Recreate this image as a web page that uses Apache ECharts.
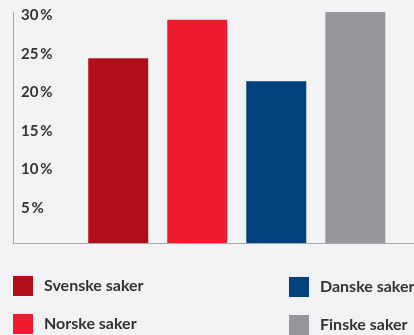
<!DOCTYPE html>
<html>
<head>
<meta charset="utf-8">
<style>
  html, body { margin: 0; padding: 0; background: #f1f2f4; }
  #chart { width: 414px; height: 335px; }
</style>
<script src="https://cdn.jsdelivr.net/npm/echarts@6/dist/echarts.min.js"></script>
</head>
<body>
<div id="chart"></div>
<script>
// Share of cases per country (percent)
const categories = ['Svenske saker', 'Norske saker', 'Danske saker', 'Finske saker'];
const values = [24, 29, 21, 30];
const colors = ['#b20f1b', '#ee1c2e', '#00417e', '#96979b'];
const yTicks = [0, 5, 10, 15, 20, 25, 30];

const FONT = 'Lato, "Open Sans", sans-serif';
const axisColor = '#a8a9ab';

const chart = echarts.init(document.getElementById('chart'), null, { renderer: 'canvas' });

const series = categories.map((name, i) => ({
  name: name,
  type: 'bar',
  xAxisIndex: 1,
  yAxisIndex: 1,
  data: [values[i]],
  barWidth: 60,
  barGap: '31.7%',
  itemStyle: { color: colors[i] },
  emphasis: { disabled: true }
}));

const legendBase = {
  orient: 'vertical',
  padding: 0,
  itemWidth: 20,
  itemHeight: 20,
  itemGap: 18,
  icon: 'rect',
  selectedMode: false,
  textStyle: {
    fontFamily: FONT,
    fontSize: 16,
    fontWeight: 'bold',
    color: '#333333',
    padding: [2, 0, 0, 6]
  }
};

chart.setOption({
  backgroundColor: '#f1f2f4',
  animation: false,
  color: colors,
  grid: [
    // frame: axis lines and percent labels
    { left: 13, right: 0, top: 12, bottom: 92 },
    // bars
    { left: 59.5, right: 0, top: 12, bottom: 92 }
  ],
  legend: [
    Object.assign({}, legendBase, { left: 13, top: 276, data: [categories[0], categories[1]] }),
    Object.assign({}, legendBase, { left: 289, top: 277, data: [categories[2], categories[3]] })
  ],
  xAxis: [
    {
      gridIndex: 0, type: 'category', data: [''],
      axisLine: { show: true, lineStyle: { color: axisColor, width: 1 } },
      axisTick: { show: false }, axisLabel: { show: false }
    },
    {
      gridIndex: 1, type: 'category', data: [''],
      axisLine: { show: false }, axisTick: { show: false }, axisLabel: { show: false }
    }
  ],
  yAxis: [
    {
      gridIndex: 0, type: 'value',
      min: yTicks[0], max: yTicks[yTicks.length - 1], interval: 5,
      axisLine: { show: true, lineStyle: { color: axisColor, width: 1 } },
      axisTick: { show: false },
      splitLine: { show: false },
      axisLabel: {
        inside: true,
        margin: 8,
        verticalAlign: 'top',
        padding: [-4, 0, 0, 0],
        fontFamily: FONT,
        fontSize: 15,
        fontWeight: 'bold',
        color: '#333333',
        formatter: v => (v === 0 ? '' : v + '\u2009%')
      }
    },
    {
      gridIndex: 1, type: 'value',
      min: yTicks[0], max: yTicks[yTicks.length - 1], interval: 5,
      show: false,
      splitLine: { show: false }
    }
  ],
  series: series
});
</script>
</body>
</html>
